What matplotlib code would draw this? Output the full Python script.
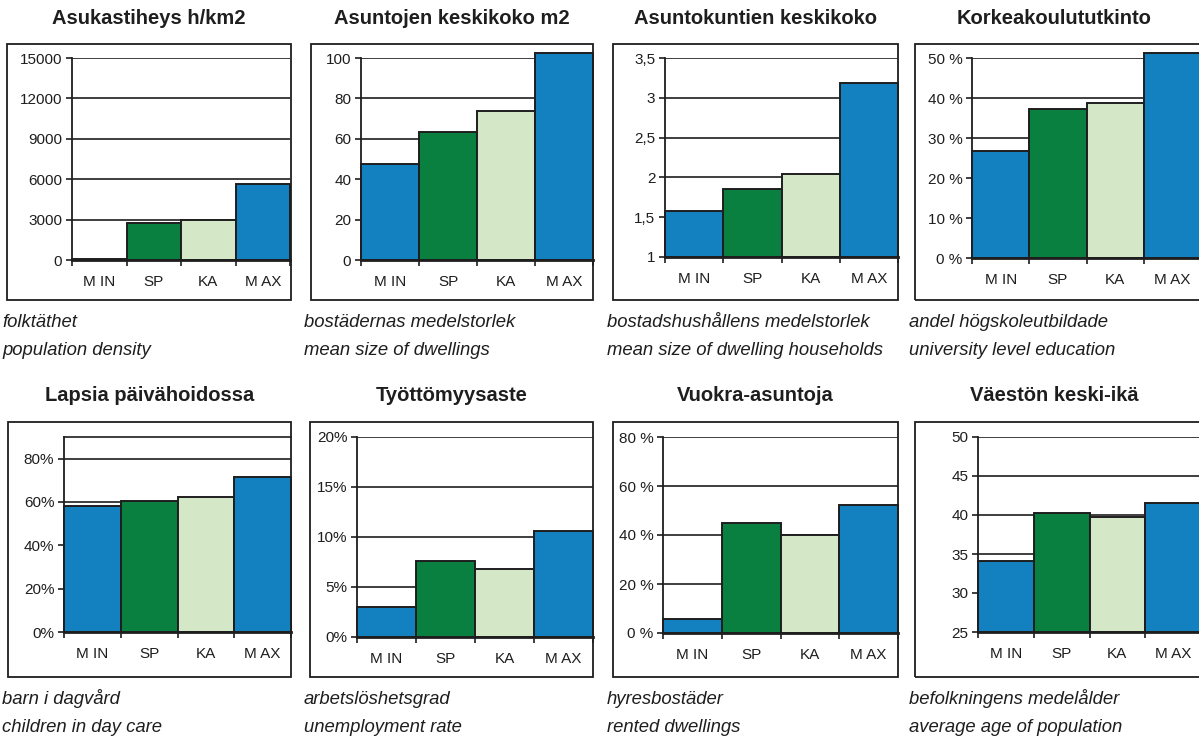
import numpy as np
import matplotlib
matplotlib.use("Agg")
import matplotlib.pyplot as plt
from matplotlib.patches import Rectangle

plt.rcParams["font.family"] = ["Liberation Sans", "DejaVu Sans"]

W, H = 1199, 754
INK = "#1e1e1e"

CATEGORIES = ["M IN", "SP", "KA", "M AX"]
BAR_COLORS = ["#1380c0", "#0a8040", "#d4e8c8", "#1380c0"]

TITLES = ["Asukastiheys h/km2", "Asuntojen keskikoko m2", "Asuntokuntien keskikoko",
          "Korkeakoulututkinto", "Lapsia päivähoidossa", "Työttömyysaste",
          "Vuokra-asuntoja", "Väestön keski-ikä"]
SUB_SV = ["folktäthet", "bostädernas medelstorlek", "bostadshushållens medelstorlek",
          "andel högskoleutbildade", "barn i dagvård", "arbetslöshetsgrad",
          "hyresbostäder", "befolkningens medelålder"]
SUB_EN = ["population density", "mean size of dwellings", "mean size of dwelling households",
          "university level education", "children in day care", "unemployment rate",
          "rented dwellings", "average age of population"]

# values per category (MIN, SP, KA, MAX)
density = [110, 2780, 2960, 5620]
dwelling_size = [47.5, 63.2, 73.8, 102.6]
household_size = [1.58, 1.86, 2.04, 3.19]
university = [26.8, 37.3, 38.8, 51.3]
day_care = [58.1, 60.5, 62.5, 71.6]
unemployment = [3.0, 7.6, 6.8, 10.6]
rented = [5.9, 44.9, 40.2, 52.4]
mean_age = [34.1, 40.3, 39.8, 41.6]

# y axis ticks and labels
density_ticks = [0, 3000, 6000, 9000, 12000, 15000]
density_labels = ["0", "3000", "6000", "9000", "12000", "15000"]
dwelling_ticks = [0, 20, 40, 60, 80, 100]
dwelling_labels = ["0", "20", "40", "60", "80", "100"]
household_ticks = [1, 1.5, 2, 2.5, 3, 3.5]
household_labels = ["1", "1,5", "2", "2,5", "3", "3,5"]
university_ticks = [0, 10, 20, 30, 40, 50]
university_labels = ["0 %", "10 %", "20 %", "30 %", "40 %", "50 %"]
day_care_ticks = [0, 20, 40, 60, 80]
day_care_labels = ["0%", "20%", "40%", "60%", "80%"]
unemployment_ticks = [0, 5, 10, 15, 20]
unemployment_labels = ["0%", "5%", "10%", "15%", "20%"]
rented_ticks = [0, 20, 40, 60, 80]
rented_labels = ["0 %", "20 %", "40 %", "60 %", "80 %"]
age_ticks = [25, 30, 35, 40, 45, 50]
age_labels = ["25", "30", "35", "40", "45", "50"]

SERIES = [density, dwelling_size, household_size, university,
          day_care, unemployment, rented, mean_age]
TICKS = [density_ticks, dwelling_ticks, household_ticks, university_ticks,
         day_care_ticks, unemployment_ticks, rented_ticks, age_ticks]
TICK_LABELS = [density_labels, dwelling_labels, household_labels, university_labels,
               day_care_labels, unemployment_labels, rented_labels, age_labels]

# layout in pixels (x0, y0, x1, y1), y measured from top
FRAMES = [(7, 44, 291, 300), (311, 44, 593, 300), (613, 44, 898, 300), (915, 44, 1210, 300),
          (8, 422, 291, 677), (310, 422, 593, 677), (613, 422, 898, 677), (915, 422, 1210, 677)]
AXES = [(72, 58, 290, 260), (361, 58, 593, 260), (665, 58, 898, 257), (972, 58, 1201, 258),
        (64, 437, 291, 632), (357, 437, 593, 637), (663, 437, 898, 633), (978, 437, 1201, 632)]
TEXT_X = [2, 304, 607, 909, 2, 304, 607, 909]


def fy(y):
    return 1 - y / H


fig = plt.figure(figsize=(W / 100, H / 100), dpi=100)

for i in range(8):
    fx0, fy0, fx1, fy1 = FRAMES[i]
    fig.add_artist(Rectangle((fx0 / W, fy(fy1)), (fx1 - fx0) / W, (fy1 - fy0) / H,
                             transform=fig.transFigure, fill=False,
                             edgecolor=INK, linewidth=1.3))
    cx = (fx0 + fx1) / 2 if i % 4 != 3 else (fx0 + 1193) / 2
    fig.text(cx / W, fy(fy0 - 26), TITLES[i], ha="center", va="center",
             fontsize=14.5, fontweight="bold", color=INK)
    fig.text(TEXT_X[i] / W, fy(fy1 + 22), SUB_SV[i], ha="left", va="center",
             fontsize=13.3, style="italic", color=INK)
    fig.text(TEXT_X[i] / W, fy(fy1 + 51), SUB_EN[i], ha="left", va="center",
             fontsize=13.3, style="italic", color=INK)

    ax0, ay0, ax1, ay1 = AXES[i]
    ax = fig.add_axes([ax0 / W, fy(ay1), (ax1 - ax0) / W, (ay1 - ay0) / H])
    ticks = TICKS[i]
    base = ticks[0]
    top = 90 if i == 4 else ticks[-1]
    vals = np.array(SERIES[i], dtype=float)
    ax.bar(range(4), vals - base, bottom=base, width=1.0, color=BAR_COLORS,
           edgecolor=INK, linewidth=1.4, zorder=3, clip_on=False)
    ax.set_xlim(-0.5, 3.5)
    ax.set_ylim(base, top)
    ax.set_yticks(ticks)
    ax.set_yticklabels(TICK_LABELS[i])
    ax.set_axisbelow(True)
    ax.yaxis.grid(True, color=INK, linewidth=1.2)
    ax.set_xticks([-0.5, 0.5, 1.5, 2.5, 3.5])
    ax.set_xticklabels([])
    ax.set_xticks([0, 1, 2, 3], minor=True)
    ax.set_xticklabels(CATEGORIES, minor=True)
    ax.tick_params(axis="x", which="major", length=4, width=1.2, color=INK)
    ax.tick_params(axis="x", which="minor", length=0, pad=11, labelsize=11, labelcolor=INK)
    ax.tick_params(axis="y", length=4, width=1.2, color=INK, pad=3,
                   labelsize=11, labelcolor=INK)
    for side in ["top", "right"]:
        ax.spines[side].set_visible(False)
    if i == 4:
        ax.spines["top"].set_visible(True)
        ax.spines["top"].set_linewidth(1.2)
        ax.spines["top"].set_color(INK)
    ax.spines["left"].set_linewidth(1.3)
    ax.spines["left"].set_color(INK)
    ax.spines["bottom"].set_linewidth(2.0)
    ax.spines["bottom"].set_color(INK)
    ax.spines["bottom"].set_zorder(4)
    ax.patch.set_alpha(0)

fig.savefig("out.png", dpi=100)
